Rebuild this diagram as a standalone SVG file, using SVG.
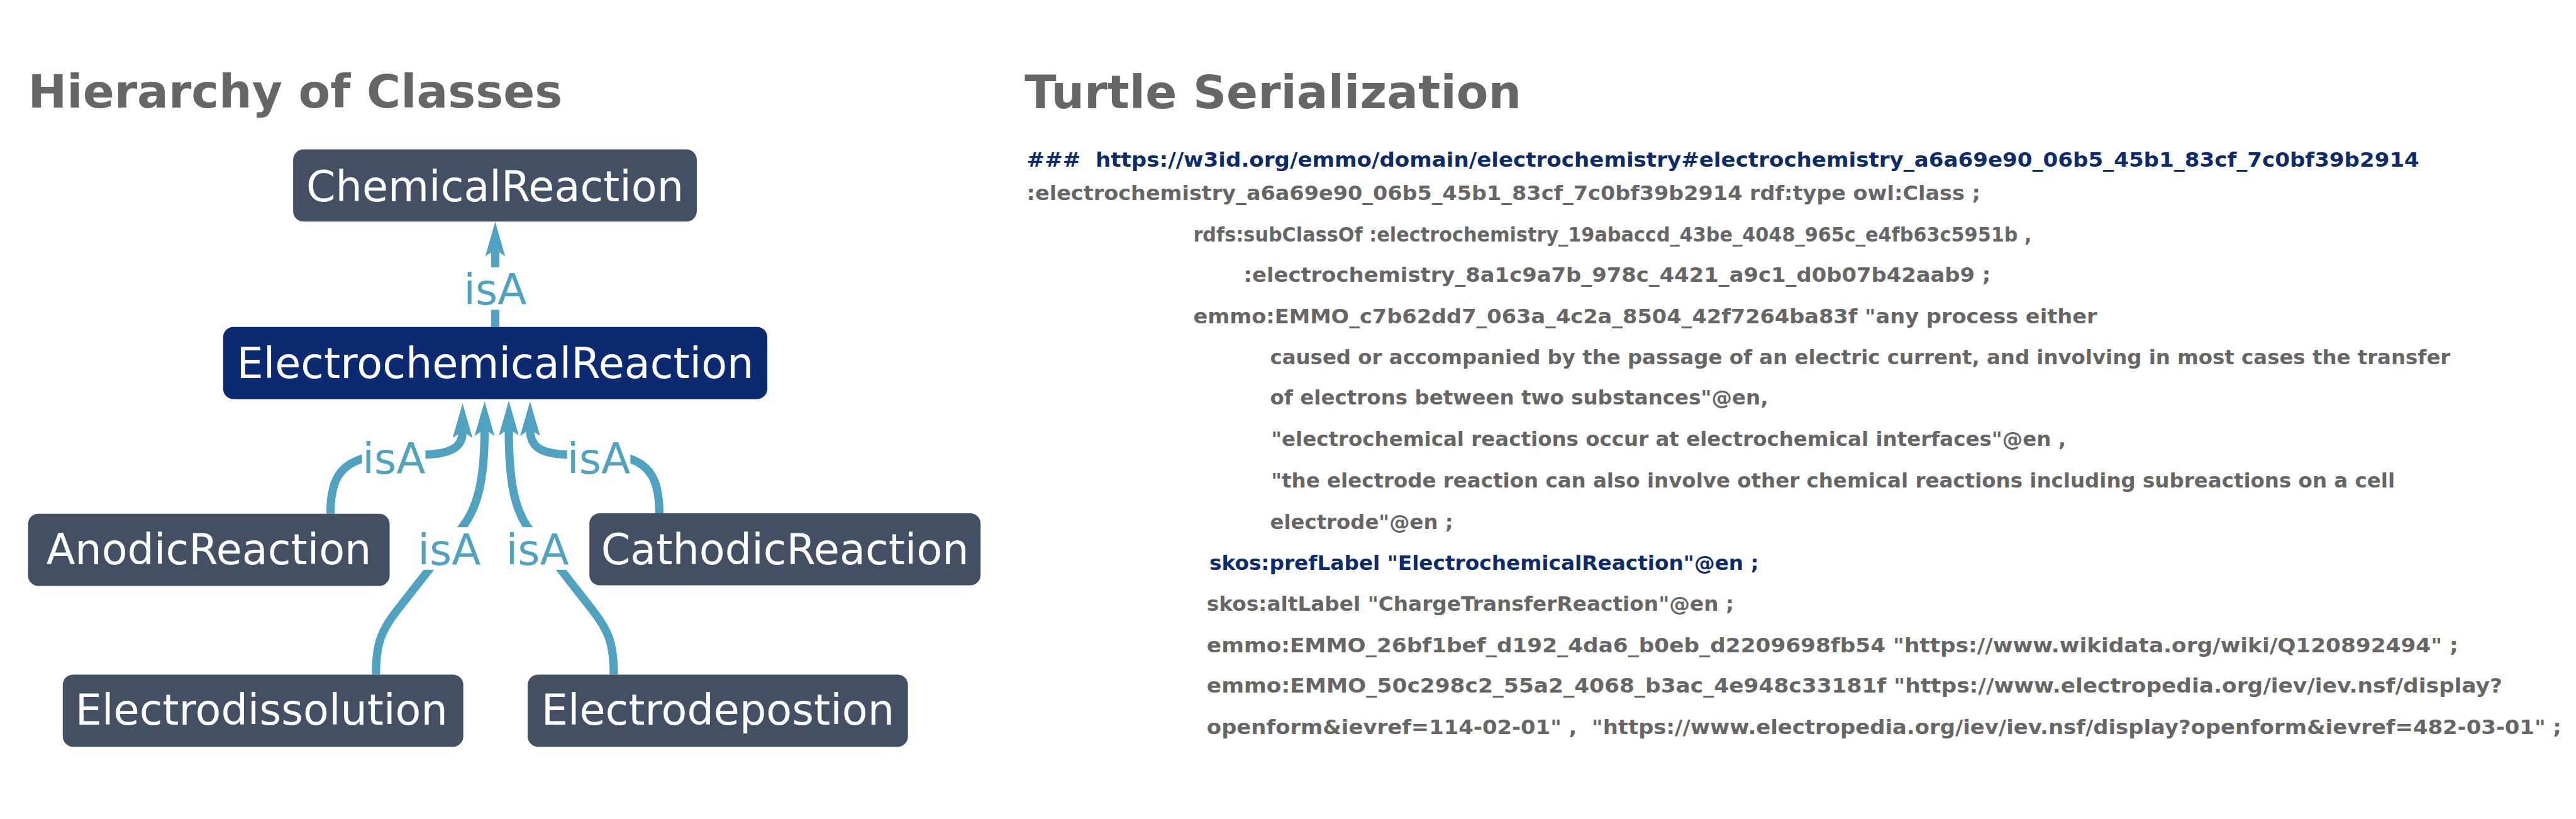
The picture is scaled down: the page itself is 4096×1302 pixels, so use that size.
<svg xmlns="http://www.w3.org/2000/svg" width="4096" height="1302" viewBox="0 0 4096 1302">
<style>
.title{font-family:"DejaVu Sans","Liberation Sans",sans-serif;font-weight:bold;font-size:89.5px;fill:#666666}
.box{fill:#435063}
.box.sel{fill:#0c2a72}
.nt{font-family:"DejaVu Sans","Liberation Sans",sans-serif;font-size:81px;fill:#ffffff;text-anchor:middle}
.edge{fill:none;stroke:#50a3c0;stroke-width:16}
.lbl{font-family:"DejaVu Sans","Liberation Sans",sans-serif;font-size:82px;fill:#50a3c0;text-anchor:middle}
.lbg{fill:#ffffff}
.tt{font-family:"DejaVu Sans","Liberation Sans",sans-serif;font-weight:bold;font-size:39.3px;fill:#666666;white-space:pre}
.tt.blue{fill:#0c2a6e}
</style>
<defs>
<marker id="arr" markerUnits="userSpaceOnUse" orient="auto" viewBox="-14 -20 68 40" markerWidth="68" markerHeight="40" refX="0" refY="0">
<path d="M53.7,0 L-13,-19.2 L0,0 L-13,19.2 Z" fill="#50a3c0"/>
</marker>
</defs>
<rect width="4096" height="1302" fill="#ffffff"/>
<g transform="scale(0.82497)">
<text class="title" x="54" y="207">Hierarchy of Classes</text>
<text class="title" x="1975" y="208">Turtle Serialization</text>

<g id="connectors">
<path class="edge" d="M954.5,630 L954.5,481" marker-end="url(#arr)"/>
<path class="edge" d="M637,990 C637,925 655,895 705,882 L820,876 C870,874 891.6,862 891.6,831" marker-end="url(#arr)"/>
<path class="edge" d="M1270.8,989 C1270.8,925 1252.8,895 1208,882 L1093,876 C1043,874 1021.7,862 1021.7,827" marker-end="url(#arr)"/>
<path class="edge" d="M724.6,1300 C724.6,1240 735,1215 764.6,1177 L891,1016 C919,980 934,930 934,827" marker-end="url(#arr)"/>
<path class="edge" d="M1183,1300 C1183,1240 1172.6,1215 1143,1177 L1017,1016 C992,980 980.7,930 980.7,826" marker-end="url(#arr)"/>
<rect class="lbg" x="893" y="515" width="123" height="82"/>
<text class="lbl" x="954.5" y="587">isA</text>
<rect class="lbg" x="698" y="841" width="122" height="82"/>
<text class="lbl" x="759.4" y="913">isA</text>
<rect class="lbg" x="1093" y="841" width="122" height="82"/>
<text class="lbl" x="1154" y="913">isA</text>
<rect class="lbg" x="805" y="1016" width="122" height="82"/>
<text class="lbl" x="866" y="1088">isA</text>
<rect class="lbg" x="975" y="1016" width="122" height="82"/>
<text class="lbl" x="1036" y="1088">isA</text>
</g>

<g id="ChemicalReaction"><rect class="box" x="565" y="288" width="778" height="139" rx="20"/><text class="nt" x="954" y="388">ChemicalReaction</text></g>
<g id="ElectrochemicalReaction"><rect class="box sel" x="430" y="630" width="1049" height="139" rx="20"/><text class="nt" x="954.5" y="728">ElectrochemicalReaction</text></g>
<g id="AnodicReaction"><rect class="box" x="54" y="990" width="697" height="139" rx="20"/><text class="nt" x="402.5" y="1087">AnodicReaction</text></g>
<g id="CathodicReaction"><rect class="box" x="1136" y="989" width="754" height="139" rx="20"/><text class="nt" x="1513" y="1087">CathodicReaction</text></g>
<g id="Electrodissolution"><rect class="box" x="121" y="1300" width="772" height="139" rx="20"/><text class="nt" x="504" y="1397">Electrodissolution</text></g>
<g id="Electrodepostion"><rect class="box" x="1017" y="1300" width="733" height="139" rx="20"/><text class="nt" x="1383.5" y="1397">Electrodepostion</text></g>

<g id="turtle">
<text class="tt blue" x="1979" y="321" textLength="2684" lengthAdjust="spacingAndGlyphs">###  https://w3id.org/emmo/domain/electrochemistry#electrochemistry_a6a69e90_06b5_45b1_83cf_7c0bf39b2914</text>
<text class="tt" x="1979" y="385" textLength="1838" lengthAdjust="spacingAndGlyphs">:electrochemistry_a6a69e90_06b5_45b1_83cf_7c0bf39b2914 rdf:type owl:Class ;</text>
<text class="tt" x="2300" y="465" textLength="1616" lengthAdjust="spacingAndGlyphs">rdfs:subClassOf :electrochemistry_19abaccd_43be_4048_965c_e4fb63c5951b ,</text>
<text class="tt" x="2397" y="543" textLength="1440" lengthAdjust="spacingAndGlyphs">:electrochemistry_8a1c9a7b_978c_4421_a9c1_d0b07b42aab9 ;</text>
<text class="tt" x="2300" y="623" textLength="1742" lengthAdjust="spacingAndGlyphs">emmo:EMMO_c7b62dd7_063a_4c2a_8504_42f7264ba83f "any process either</text>
<text class="tt" x="2448" y="702" textLength="2275" lengthAdjust="spacingAndGlyphs">caused or accompanied by the passage of an electric current, and involving in most cases the transfer</text>
<text class="tt" x="2448" y="780" textLength="960" lengthAdjust="spacingAndGlyphs">of electrons between two substances"@en,</text>
<text class="tt" x="2450" y="860" textLength="1532" lengthAdjust="spacingAndGlyphs">"electrochemical reactions occur at electrochemical interfaces"@en ,</text>
<text class="tt" x="2450" y="940" textLength="2166" lengthAdjust="spacingAndGlyphs">"the electrode reaction can also involve other chemical reactions including subreactions on a cell</text>
<text class="tt" x="2448" y="1020" textLength="353" lengthAdjust="spacingAndGlyphs">electrode"@en ;</text>
<text class="tt blue" x="2331" y="1098" textLength="1059" lengthAdjust="spacingAndGlyphs">skos:prefLabel "ElectrochemicalReaction"@en ;</text>
<text class="tt" x="2326" y="1177" textLength="1016" lengthAdjust="spacingAndGlyphs">skos:altLabel "ChargeTransferReaction"@en ;</text>
<text class="tt" x="2326" y="1257" textLength="2412" lengthAdjust="spacingAndGlyphs">emmo:EMMO_26bf1bef_d192_4da6_b0eb_d2209698fb54 "https://www.wikidata.org/wiki/Q120892494" ;</text>
<text class="tt" x="2326" y="1335" textLength="2497" lengthAdjust="spacingAndGlyphs">emmo:EMMO_50c298c2_55a2_4068_b3ac_4e948c33181f "https://www.electropedia.org/iev/iev.nsf/display?</text>
<text class="tt" x="2326" y="1415" textLength="2611" lengthAdjust="spacingAndGlyphs">openform&amp;ievref=114-02-01" ,  "https://www.electropedia.org/iev/iev.nsf/display?openform&amp;ievref=482-03-01" ;</text>
</g>
</g>
</svg>
